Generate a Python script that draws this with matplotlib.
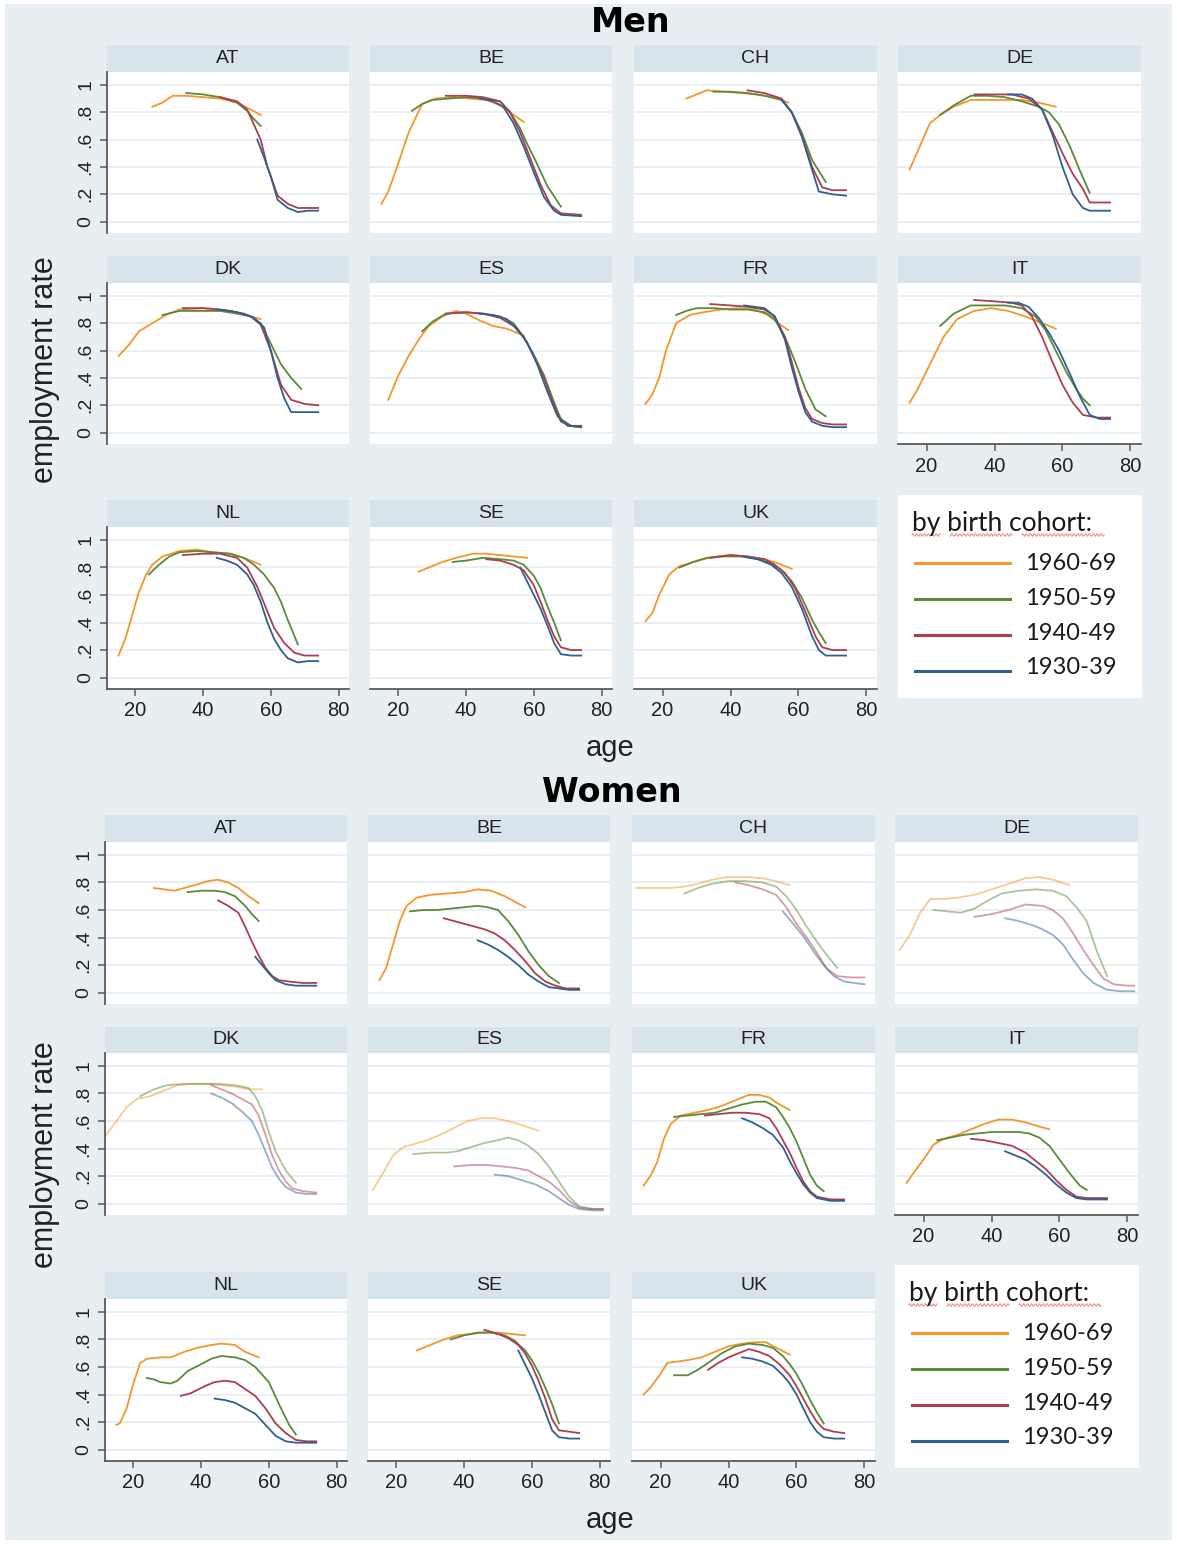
import matplotlib
matplotlib.use("Agg")
import matplotlib.pyplot as plt
import numpy as np
from matplotlib.patches import Rectangle
from matplotlib.lines import Line2D

plt.rcParams["font.family"] = ["Liberation Sans", "DejaVu Sans"]

W, H = 1177, 1544

cohorts = ["1960-69", "1950-59", "1940-49", "1930-39"]
colors = ["#f5962a", "#5a8a3a", "#ad3d4f", "#30608f"]

# ---------------- Men ----------------  (ages, employment rate) per cohort 1960-69, 1950-59, 1940-49, 1930-39
men_AT = [
    ([25, 28, 31, 35, 40, 45, 50, 54, 57], [.84, .87, .92, .92, .91, .90, .87, .82, .78]),
    ([35, 40, 45, 50, 53, 55, 57], [.94, .93, .91, .87, .81, .75, .70]),
    ([45, 50, 53, 55, 57, 59, 62, 65, 68, 74], [.91, .88, .82, .71, .60, .40, .19, .13, .10, .10]),
    ([56, 58, 60, 62, 65, 68, 71, 74], [.60, .47, .33, .16, .10, .07, .08, .08]),
]
men_BE = [
    ([15, 17, 20, 23, 27, 31, 36, 41, 46, 50, 54, 57], [.13, .22, .43, .65, .86, .90, .91, .90, .89, .85, .78, .73]),
    ([24, 27, 30, 35, 40, 45, 50, 53, 56, 58, 61, 64, 68], [.81, .86, .89, .90, .91, .90, .88, .80, .68, .57, .42, .26, .11]),
    ([34, 40, 45, 50, 53, 56, 59, 62, 65, 68, 74], [.92, .92, .91, .88, .80, .65, .46, .27, .12, .06, .05]),
    ([44, 48, 51, 54, 57, 60, 63, 66, 68, 74], [.90, .88, .84, .72, .55, .36, .18, .08, .05, .04]),
]
men_CH = [
    ([27, 30, 33, 38, 43, 48, 53, 57], [.90, .93, .96, .95, .94, .93, .91, .87]),
    ([35, 40, 45, 50, 55, 58, 61, 64, 68], [.95, .95, .94, .92, .89, .80, .65, .45, .29]),
    ([45, 50, 55, 58, 61, 64, 67, 70, 74], [.96, .94, .90, .80, .63, .40, .25, .23, .23]),
    ([55, 58, 61, 64, 66, 70, 74], [.89, .80, .62, .38, .22, .20, .19]),
]
men_DE = [
    ([15, 18, 21, 24, 28, 33, 40, 48, 53, 58], [.38, .55, .72, .78, .84, .89, .89, .89, .87, .84]),
    ([24, 28, 33, 38, 43, 48, 53, 56, 59, 62, 65, 68], [.78, .85, .92, .92, .91, .88, .84, .80, .71, .56, .38, .21]),
    ([34, 40, 45, 50, 54, 57, 60, 63, 66, 68, 74], [.93, .93, .93, .90, .82, .66, .50, .35, .24, .14, .14]),
    ([44, 48, 51, 54, 57, 60, 63, 66, 68, 74], [.93, .93, .90, .82, .64, .40, .20, .10, .08, .08]),
]
men_DK = [
    ([15, 18, 21, 25, 29, 33, 40, 45, 50, 54, 57], [.56, .64, .74, .80, .86, .90, .91, .90, .88, .85, .83]),
    ([28, 33, 40, 45, 50, 54, 57, 60, 63, 66, 69], [.86, .89, .89, .89, .87, .85, .80, .65, .50, .40, .32]),
    ([34, 40, 45, 50, 54, 57, 60, 63, 66, 70, 74], [.91, .91, .90, .88, .85, .79, .60, .35, .24, .21, .20]),
    ([44, 48, 52, 55, 58, 60, 62, 64, 66, 70, 74], [.90, .89, .87, .84, .77, .60, .40, .25, .15, .15, .15]),
]
men_ES = [
    ([17, 20, 23, 26, 29, 33, 37, 40, 44, 48, 52, 57], [.24, .42, .56, .68, .78, .85, .89, .87, .82, .78, .76, .71]),
    ([27, 30, 34, 40, 45, 50, 54, 57, 60, 63, 66, 68, 71, 74], [.74, .81, .87, .88, .87, .85, .80, .70, .57, .42, .22, .10, .05, .04]),
    ([34, 40, 45, 50, 54, 57, 60, 63, 66, 68, 71, 74], [.87, .88, .87, .84, .78, .70, .56, .40, .20, .08, .05, .05]),
    ([44, 48, 52, 55, 58, 61, 64, 67, 70, 74], [.87, .86, .83, .76, .66, .50, .30, .12, .05, .04]),
]
men_FR = [
    ([15, 17, 19, 21, 24, 28, 32, 37, 42, 47, 51, 54, 57], [.21, .28, .40, .60, .80, .86, .88, .90, .91, .90, .86, .80, .75]),
    ([24, 27, 30, 35, 40, 45, 50, 53, 56, 59, 62, 65, 68], [.86, .89, .91, .91, .90, .90, .88, .83, .70, .52, .32, .17, .12]),
    ([34, 40, 45, 50, 53, 56, 58, 60, 62, 64, 67, 70, 74], [.94, .93, .92, .90, .85, .70, .52, .33, .18, .10, .07, .06, .06]),
    ([44, 47, 50, 53, 56, 58, 60, 62, 64, 67, 70, 74], [.93, .92, .91, .85, .68, .48, .30, .15, .08, .05, .04, .04]),
]
men_IT = [
    ([15, 17, 19, 22, 25, 29, 34, 39, 44, 49, 53, 58], [.22, .30, .40, .55, .70, .83, .89, .91, .89, .85, .81, .76]),
    ([24, 28, 33, 38, 43, 48, 52, 55, 58, 61, 64, 66, 68], [.78, .87, .93, .93, .93, .91, .85, .75, .60, .45, .32, .25, .20]),
    ([34, 40, 45, 48, 51, 54, 57, 60, 63, 66, 70, 74], [.97, .96, .95, .93, .85, .70, .52, .35, .22, .13, .11, .11]),
    ([44, 47, 50, 53, 56, 59, 62, 65, 68, 71, 74], [.95, .95, .92, .84, .73, .60, .44, .27, .13, .10, .10]),
]
men_NL = [
    ([15, 17, 19, 21, 23, 25, 28, 33, 38, 43, 48, 53, 57], [.16, .28, .45, .62, .74, .82, .88, .92, .93, .91, .90, .86, .82]),
    ([24, 27, 30, 33, 38, 43, 48, 52, 55, 58, 61, 63, 65, 68], [.75, .82, .88, .91, .92, .91, .90, .87, .82, .75, .65, .55, .42, .24]),
    ([34, 40, 45, 50, 53, 56, 59, 61, 64, 67, 70, 74], [.89, .90, .90, .87, .80, .66, .48, .36, .25, .18, .16, .16]),
    ([44, 47, 50, 53, 55, 57, 59, 61, 63, 65, 68, 71, 74], [.87, .85, .82, .75, .67, .55, .40, .28, .20, .14, .11, .12, .12]),
]
men_SE = [
    ([26, 29, 33, 37, 42, 46, 50, 54, 58], [.77, .80, .84, .87, .90, .90, .89, .88, .87]),
    ([36, 40, 45, 50, 54, 57, 60, 62, 64, 66, 68], [.84, .85, .87, .86, .85, .82, .74, .65, .52, .40, .27]),
    ([46, 50, 54, 57, 60, 62, 64, 66, 68, 71, 74], [.86, .85, .82, .78, .67, .55, .42, .30, .22, .20, .20]),
    ([56, 58, 60, 62, 64, 66, 68, 71, 74], [.80, .70, .60, .50, .38, .25, .17, .16, .16]),
]
men_UK = [
    ([15, 17, 19, 22, 25, 28, 32, 36, 40, 45, 50, 54, 58], [.41, .47, .60, .75, .81, .83, .86, .88, .89, .88, .86, .83, .79]),
    ([25, 29, 33, 38, 43, 48, 52, 55, 58, 61, 64, 66, 68], [.80, .84, .87, .88, .88, .86, .83, .78, .70, .58, .42, .33, .25]),
    ([34, 40, 45, 50, 53, 56, 59, 62, 65, 67, 70, 74], [.87, .89, .88, .86, .82, .76, .65, .48, .30, .22, .20, .20]),
    ([44, 48, 52, 55, 58, 61, 64, 66, 68, 71, 74], [.88, .86, .82, .76, .66, .50, .30, .20, .16, .16, .16]),
]

# ---------------- Women ----------------
women_AT = [
    ([26, 29, 32, 35, 38, 42, 45, 48, 51, 54, 57], [.76, .75, .74, .76, .78, .81, .82, .80, .76, .70, .65]),
    ([36, 40, 44, 47, 50, 53, 55, 57], [.73, .74, .74, .73, .70, .63, .57, .52]),
    ([45, 48, 51, 53, 55, 57, 59, 61, 63, 66, 70, 74], [.67, .63, .58, .48, .37, .27, .18, .12, .09, .08, .07, .07]),
    ([56, 58, 60, 62, 65, 68, 71, 74], [.26, .20, .14, .09, .06, .05, .05, .05]),
]
women_BE = [
    ([15, 17, 19, 21, 23, 26, 30, 35, 40, 44, 48, 52, 55, 58], [.09, .18, .35, .52, .63, .69, .71, .72, .73, .75, .74, .70, .66, .62]),
    ([24, 28, 32, 36, 40, 44, 47, 50, 53, 56, 59, 62, 65, 68], [.59, .60, .60, .61, .62, .63, .62, .60, .52, .42, .30, .20, .12, .07]),
    ([34, 37, 40, 43, 46, 49, 52, 55, 58, 61, 64, 67, 70, 74], [.54, .52, .50, .48, .46, .43, .38, .31, .23, .14, .08, .05, .03, .03]),
    ([44, 47, 50, 53, 56, 59, 62, 65, 68, 71, 74], [.38, .35, .31, .26, .20, .13, .08, .04, .03, .02, .02]),
]
women_CH = [
    ([13, 18, 23, 27, 31, 35, 40, 45, 50, 54, 58], [.76, .76, .76, .77, .79, .82, .84, .84, .83, .81, .78]),
    ([27, 31, 35, 40, 45, 50, 54, 57, 60, 63, 66, 69, 72], [.72, .76, .79, .81, .81, .80, .77, .70, .60, .48, .37, .27, .18]),
    ([42, 46, 50, 54, 57, 60, 63, 66, 69, 72, 76, 80], [.80, .78, .75, .71, .62, .50, .40, .29, .17, .12, .11, .11]),
    ([56, 59, 62, 65, 68, 71, 74, 77, 80], [.59, .50, .41, .30, .20, .12, .08, .07, .06]),
]
women_DE = [
    ([13, 16, 19, 22, 26, 30, 35, 40, 45, 50, 54, 58, 63], [.31, .42, .58, .68, .68, .69, .71, .75, .79, .83, .84, .82, .78]),
    ([23, 27, 31, 35, 39, 43, 48, 53, 58, 62, 65, 68, 71, 74], [.60, .59, .58, .61, .67, .72, .74, .75, .74, .70, .62, .52, .30, .12]),
    ([35, 40, 45, 50, 55, 58, 61, 64, 67, 70, 73, 76, 80, 82], [.55, .57, .60, .64, .63, .60, .54, .43, .31, .20, .10, .06, .05, .05]),
    ([44, 48, 52, 55, 58, 61, 64, 67, 70, 74, 78, 82], [.54, .52, .49, .46, .42, .35, .24, .14, .07, .02, .01, .01]),
]
women_DK = [
    ([12, 15, 18, 21, 25, 29, 33, 38, 42, 46, 50, 54, 58], [.50, .60, .70, .76, .78, .82, .86, .87, .87, .86, .85, .83, .83]),
    ([22, 26, 30, 35, 40, 45, 50, 54, 56, 58, 60, 62, 65, 68], [.78, .83, .86, .87, .87, .87, .86, .84, .78, .68, .52, .38, .24, .15]),
    ([43, 46, 49, 52, 55, 57, 59, 61, 63, 65, 67, 70, 74], [.86, .83, .80, .76, .72, .64, .50, .35, .24, .16, .11, .09, .08]),
    ([43, 46, 49, 52, 55, 57, 59, 61, 63, 65, 68, 71, 74], [.80, .77, .73, .67, .60, .50, .38, .26, .18, .12, .08, .07, .07]),
]
women_ES = [
    ([13, 16, 19, 22, 25, 29, 33, 37, 41, 45, 49, 53, 57, 62], [.10, .22, .35, .41, .43, .46, .50, .55, .60, .62, .62, .60, .57, .53]),
    ([25, 30, 35, 38, 42, 46, 50, 53, 56, 59, 62, 65, 68, 71, 74, 78, 81], [.36, .37, .37, .38, .41, .44, .46, .48, .46, .42, .36, .27, .16, .05, -.02, -.04, -.04]),
    ([37, 42, 47, 51, 55, 59, 62, 65, 68, 71, 74, 78, 81], [.27, .28, .28, .27, .26, .24, .20, .16, .10, .02, -.03, -.04, -.04]),
    ([49, 53, 57, 61, 65, 68, 71, 74, 78, 81], [.21, .20, .17, .14, .09, .04, -.01, -.04, -.05, -.05]),
]
women_FR = [
    ([15, 17, 19, 21, 23, 26, 30, 34, 38, 42, 46, 49, 52, 55, 58], [.13, .20, .30, .47, .58, .64, .66, .68, .71, .75, .79, .79, .77, .72, .68]),
    ([24, 28, 32, 36, 40, 44, 48, 51, 54, 56, 58, 60, 62, 64, 66, 68], [.63, .64, .65, .66, .69, .72, .74, .74, .70, .63, .55, .45, .33, .21, .13, .09]),
    ([33, 37, 41, 45, 49, 52, 54, 56, 58, 60, 62, 64, 66, 70, 74], [.64, .65, .66, .66, .65, .62, .55, .46, .37, .26, .16, .09, .05, .03, .03]),
    ([44, 47, 50, 53, 56, 58, 60, 62, 64, 66, 70, 74], [.62, .59, .55, .50, .41, .31, .22, .14, .08, .04, .02, .02]),
]
women_IT = [
    ([15, 17, 20, 23, 26, 30, 34, 38, 42, 46, 50, 54, 57], [.15, .22, .32, .43, .47, .50, .54, .58, .61, .61, .59, .56, .54]),
    ([24, 28, 32, 36, 40, 44, 48, 51, 54, 57, 60, 63, 66, 68], [.46, .48, .50, .51, .52, .52, .52, .51, .48, .42, .32, .22, .13, .10]),
    ([34, 38, 42, 46, 50, 53, 56, 59, 62, 65, 68, 71, 74], [.47, .46, .44, .42, .37, .31, .25, .17, .10, .05, .04, .04, .04]),
    ([44, 47, 50, 53, 56, 59, 62, 65, 68, 71, 74], [.38, .35, .32, .27, .21, .14, .08, .04, .03, .03, .03]),
]
women_NL = [
    ([15, 16, 18, 20, 22, 24, 28, 31, 35, 39, 43, 46, 50, 53, 57], [.18, .19, .30, .48, .63, .66, .67, .67, .71, .74, .76, .77, .76, .71, .67]),
    ([24, 26, 28, 31, 33, 36, 40, 43, 46, 50, 53, 56, 60, 63, 66, 68], [.52, .51, .49, .48, .50, .57, .62, .66, .68, .67, .65, .60, .49, .33, .18, .11]),
    ([34, 37, 41, 44, 47, 50, 53, 56, 59, 62, 65, 68, 71, 74], [.39, .41, .46, .49, .50, .49, .44, .39, .30, .19, .12, .07, .06, .06]),
    ([44, 47, 50, 53, 56, 59, 62, 65, 68, 71, 74], [.37, .36, .34, .30, .26, .18, .10, .06, .05, .05, .05]),
]
women_SE = [
    ([26, 30, 34, 38, 42, 46, 50, 54, 58], [.72, .76, .80, .83, .84, .85, .85, .84, .83]),
    ([36, 40, 44, 48, 52, 55, 58, 60, 62, 64, 66, 68], [.80, .83, .85, .85, .83, .79, .72, .65, .56, .45, .33, .19]),
    ([46, 50, 53, 56, 58, 60, 62, 64, 66, 68, 71, 74], [.87, .84, .81, .76, .70, .61, .50, .37, .22, .14, .13, .12]),
    ([56, 58, 60, 62, 64, 66, 68, 71, 74], [.72, .62, .52, .40, .27, .14, .09, .08, .08]),
]
women_UK = [
    ([15, 17, 20, 22, 25, 28, 32, 36, 40, 44, 48, 51, 54, 58], [.40, .45, .55, .63, .64, .65, .67, .71, .75, .77, .78, .78, .74, .69]),
    ([24, 28, 31, 34, 38, 42, 46, 50, 53, 56, 58, 60, 62, 64, 66, 68], [.54, .54, .58, .63, .70, .75, .77, .76, .74, .68, .62, .55, .46, .36, .27, .19]),
    ([34, 37, 40, 43, 46, 49, 52, 55, 58, 60, 62, 64, 66, 68, 71, 74], [.58, .63, .67, .70, .73, .71, .68, .62, .54, .46, .37, .28, .20, .15, .13, .12]),
    ([44, 47, 50, 53, 56, 58, 60, 62, 64, 66, 68, 71, 74], [.67, .66, .64, .61, .54, .48, .40, .30, .20, .13, .09, .08, .08]),
]

men_panels = [("AT", men_AT), ("BE", men_BE), ("CH", men_CH), ("DE", men_DE),
              ("DK", men_DK), ("ES", men_ES), ("FR", men_FR), ("IT", men_IT),
              ("NL", men_NL), ("SE", men_SE), ("UK", men_UK)]
women_panels = [("AT", women_AT), ("BE", women_BE), ("CH", women_CH), ("DE", women_DE),
                ("DK", women_DK), ("ES", women_ES), ("FR", women_FR), ("IT", women_IT),
                ("NL", women_NL), ("SE", women_SE), ("UK", women_UK)]
faded_women = ["CH", "DE", "DK", "ES"]

yticks = [0, .2, .4, .6, .8, 1]
ylabels = ["0", ".2", ".4", ".6", ".8", "1"]
xticks = [20, 40, 60, 80]

BG = "#e8eff2"
STRIP = "#d8e4eb"
GRID = "#e9eff3"
AXC = "#5a5a5a"
TXT = "#222222"

fig = plt.figure(figsize=(W / 100, H / 100), dpi=100)
fig.patch.set_facecolor("white")
fig.add_artist(Rectangle((5 / W, 4 / H), (W - 10) / W, (H - 8) / H,
                         transform=fig.transFigure, facecolor=BG, edgecolor="none", zorder=0))


def box(x0, y0, x1, y1):
    return [x0 / W, 1 - y1 / H, (x1 - x0) / W, (y1 - y0) / H]


def squiggle(ax, x0, x1, y):
    # spell-check style wavy underline
    xs = np.linspace(x0, x1, int((x1 - x0) * 2))
    ax.plot(xs, y + 1.2 * np.sin(xs * 1.6), color="#f28c8c", lw=0.8)


def section(panels, cols, rows, faded, title, title_x, title_y, age_y, ylab_y, leg_x, leg_y):
    fig.text(title_x / W, 1 - title_y / H, title,
             fontsize=24, fontweight="bold", ha="center", va="center", family="DejaVu Sans")
    fig.text(610 / W, 1 - age_y / H, "age", fontsize=21, ha="center", va="center", color=TXT)
    fig.text(45 / W, 1 - ylab_y / H, "employment rate", fontsize=22, rotation=90,
             ha="center", va="center", color=TXT)
    for i, (name, series) in enumerate(panels):
        r, c = divmod(i, 4)
        x0, x1 = cols[c]
        s0, s1, p1 = rows[r]
        st = fig.add_axes(box(x0, s0, x1, s1))
        st.set_facecolor(STRIP)
        st.set_xticks([])
        st.set_yticks([])
        for sp in st.spines.values():
            sp.set_visible(False)
        st.text(0.5, 0.5, name, ha="center", va="center", fontsize=14, color=TXT,
                transform=st.transAxes)

        ax = fig.add_axes(box(x0, s1, x1, p1))
        ax.set_facecolor("white")
        ax.set_xlim(11.6, 83.1)
        ax.set_ylim(-0.083, 1.094)
        ax.set_yticks(yticks)
        ax.set_xticks(xticks)
        ax.yaxis.grid(True, color=GRID, lw=1.4)
        ax.set_axisbelow(True)
        for sp in ["top", "right"]:
            ax.spines[sp].set_visible(False)
        alpha = 0.5 if name in faded else 1.0
        for (ages, vals), col in zip(series, colors):
            ax.plot(ages, vals, color=col, lw=1.3, alpha=alpha, solid_joinstyle="round")

        if c == 0:
            ax.spines["left"].set_color(AXC)
            ax.spines["left"].set_linewidth(1.3)
            ax.set_yticklabels(ylabels, rotation=90, va="center", fontsize=14, color=TXT)
            ax.tick_params(axis="y", length=5, color=AXC, width=1.1, pad=4)
        else:
            ax.spines["left"].set_visible(False)
            ax.tick_params(axis="y", left=False, labelleft=False)
        bottom = (r == 2) or (r == 1 and c == 3)
        if bottom:
            ax.spines["bottom"].set_color(AXC)
            ax.spines["bottom"].set_linewidth(1.3)
            ax.set_xticklabels([str(t) for t in xticks], fontsize=14.5, color=TXT)
            ax.tick_params(axis="x", length=5, color=AXC, width=1.1, pad=4)
        else:
            ax.spines["bottom"].set_visible(False)
            ax.tick_params(axis="x", bottom=False, labelbottom=False)

    # legend box
    lg = fig.add_axes(box(leg_x, leg_y, leg_x + 244, leg_y + 203))
    lg.set_facecolor("white")
    lg.set_xlim(0, 244)
    lg.set_ylim(203, 0)
    lg.set_xticks([])
    lg.set_yticks([])
    for sp in lg.spines.values():
        sp.set_visible(False)
    lg.text(14, 28, "by birth cohort:", fontsize=19, family="Lato", va="center", ha="left",
            color="#1a1a1a")
    squiggle(lg, 14, 42, 40)
    squiggle(lg, 52, 114, 40)
    squiggle(lg, 124, 206, 40)
    for k, (lab, col) in enumerate(zip(cohorts, colors)):
        ly = 68 + k * 34.5
        lg.add_line(Line2D([17, 112], [ly + k * 1.5, ly + k * 1.5], color=col, lw=2.2))
        lg.text(127, ly + 1, lab, fontsize=17, family="Lato", va="center", ha="left",
                color="#1a1a1a")


section(men_panels,
        cols=[(107, 349), (370, 612), (634, 877), (898, 1141)],
        rows=[(45, 72, 233), (256, 283, 444), (500, 527, 689)],
        faded=[], title="Men", title_x=631, title_y=22, age_y=748, ylab_y=370,
        leg_x=898, leg_y=495)
section(women_panels,
        cols=[(105, 347), (368, 610), (632, 875), (895, 1138)],
        rows=[(815, 842, 1004), (1027, 1053, 1215), (1272, 1299, 1461)],
        faded=faded_women, title="Women", title_x=612, title_y=792, age_y=1520, ylab_y=1155,
        leg_x=895, leg_y=1265)

fig.savefig("out.png", dpi=100, facecolor=fig.get_facecolor())
